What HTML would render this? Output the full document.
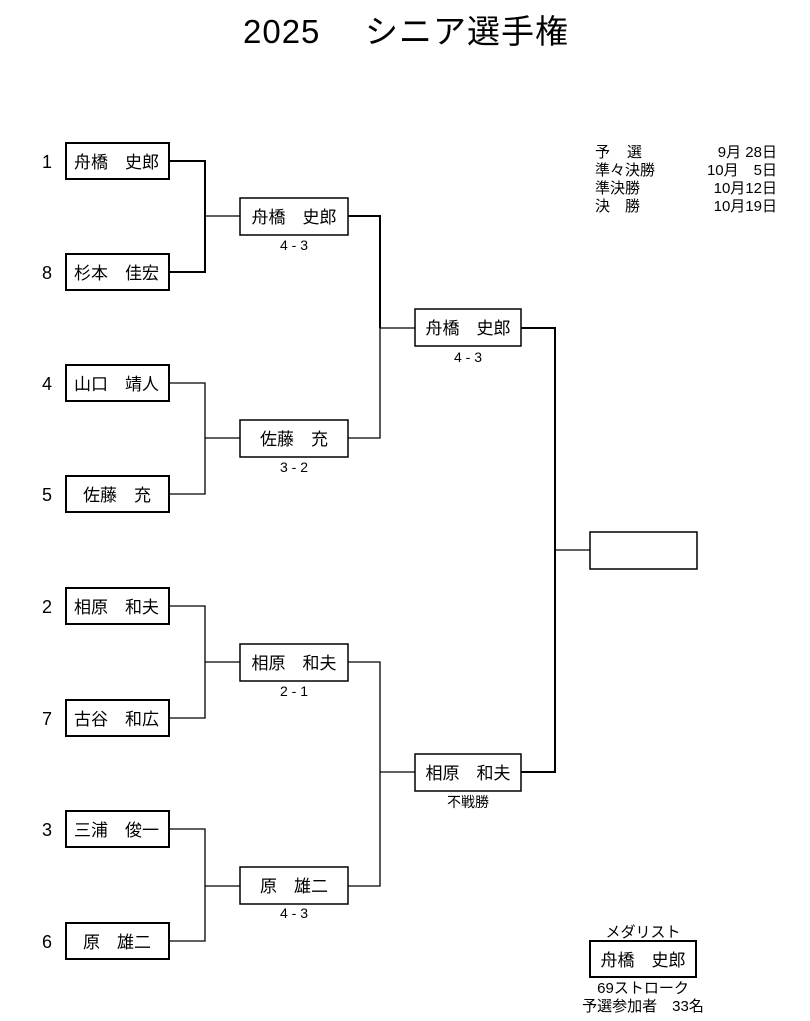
<!DOCTYPE html>
<html><head><meta charset="utf-8"><style>
html,body{margin:0;padding:0;background:#fff;}
svg{display:block;}
text{font-family:"Liberation Sans","Noto Sans CJK JP",sans-serif;fill:#000;}
</style></head><body>
<svg width="810" height="1021" viewBox="0 0 810 1021" xmlns="http://www.w3.org/2000/svg">
<rect width="810" height="1021" fill="#fff"/>
<text x="243" y="43" font-size="33" letter-spacing="1">2025</text>
<text x="365" y="43" font-size="33" letter-spacing="1">シニア選手権</text>

<g font-size="15">
<text x="595" y="157" letter-spacing="1">予　選</text><text x="777" y="157" text-anchor="end">9月 28日</text>
<text x="595" y="175">準々決勝</text><text x="777" y="175" text-anchor="end">10月　5日</text>
<text x="595" y="193">準決勝</text><text x="777" y="193" text-anchor="end">10月12日</text>
<text x="595" y="211">決　勝</text><text x="777" y="211" text-anchor="end">10月19日</text>
</g>

<g fill="none" stroke="#000">
<g stroke-width="2">
<rect x="66" y="143" width="103" height="36"/>
<rect x="66" y="254" width="103" height="36"/>
<rect x="66" y="365" width="103" height="36"/>
<rect x="66" y="476" width="103" height="36"/>
<rect x="66" y="588" width="103" height="36"/>
<rect x="66" y="700" width="103" height="36"/>
<rect x="66" y="811" width="103" height="36"/>
<rect x="66" y="923" width="103" height="36"/>
</g>
<g stroke-width="1.5">
<rect x="240" y="198" width="108" height="37"/>
<rect x="240" y="420" width="108" height="37"/>
<rect x="240" y="644" width="108" height="37"/>
<rect x="240" y="867" width="108" height="37"/>
<rect x="415" y="309" width="106" height="37"/>
<rect x="415" y="754" width="106" height="37"/>
<rect x="590" y="532" width="107" height="37"/>
<rect x="590" y="941" width="106" height="36" stroke-width="2"/>
</g>
<g stroke-width="1.3">
<path d="M169 383H205V494H169M205 438H240"/>
<path d="M169 606H205V718H169M205 662H240"/>
<path d="M169 829H205V941H169M205 886H240"/>
<path d="M205 216H240"/>
<path d="M348 438H380V328H415"/>
<path d="M348 662H380V886H348M380 772H415"/>
<path d="M555 550H590"/>
</g>
<g stroke-width="2">
<path d="M169 161H205V272H169"/>
<path d="M348 216H380V328"/>
<path d="M521 328H555V772H521"/>
</g>
</g>

<g font-size="18">
<text x="47" y="168" text-anchor="middle">1</text>
<text x="47" y="279" text-anchor="middle">8</text>
<text x="47" y="390" text-anchor="middle">4</text>
<text x="47" y="501" text-anchor="middle">5</text>
<text x="47" y="613" text-anchor="middle">2</text>
<text x="47" y="725" text-anchor="middle">7</text>
<text x="47" y="836" text-anchor="middle">3</text>
<text x="47" y="948" text-anchor="middle">6</text>
</g>
<g font-size="17">
<text x="74" y="168">舟橋　史郎</text>
<text x="74" y="279">杉本　佳宏</text>
<text x="74" y="390">山口　靖人</text>
<text x="83" y="501">佐藤　充</text>
<text x="74" y="613">相原　和夫</text>
<text x="74" y="725">古谷　和広</text>
<text x="74" y="836">三浦　俊一</text>
<text x="83" y="948">原　雄二</text>
<text x="294" y="223" text-anchor="middle">舟橋　史郎</text>
<text x="294" y="445" text-anchor="middle">佐藤　充</text>
<text x="294" y="669" text-anchor="middle">相原　和夫</text>
<text x="294" y="892" text-anchor="middle">原　雄二</text>
<text x="468" y="334" text-anchor="middle">舟橋　史郎</text>
<text x="468" y="779" text-anchor="middle">相原　和夫</text>
<text x="643" y="966" text-anchor="middle">舟橋　史郎</text>
</g>
<g font-size="14" text-anchor="middle">
<text x="294" y="250">4 - 3</text>
<text x="294" y="472">3 - 2</text>
<text x="294" y="696">2 - 1</text>
<text x="294" y="918">4 - 3</text>
<text x="468" y="362">4 - 3</text>
<text x="468" y="807">不戦勝</text>
<text x="643" y="937" font-size="15">メダリスト</text>
<text x="643" y="993" font-size="15">69ストローク</text>
<text x="643" y="1011" font-size="15">予選参加者　33名</text>
</g>
</svg>
</body></html>
